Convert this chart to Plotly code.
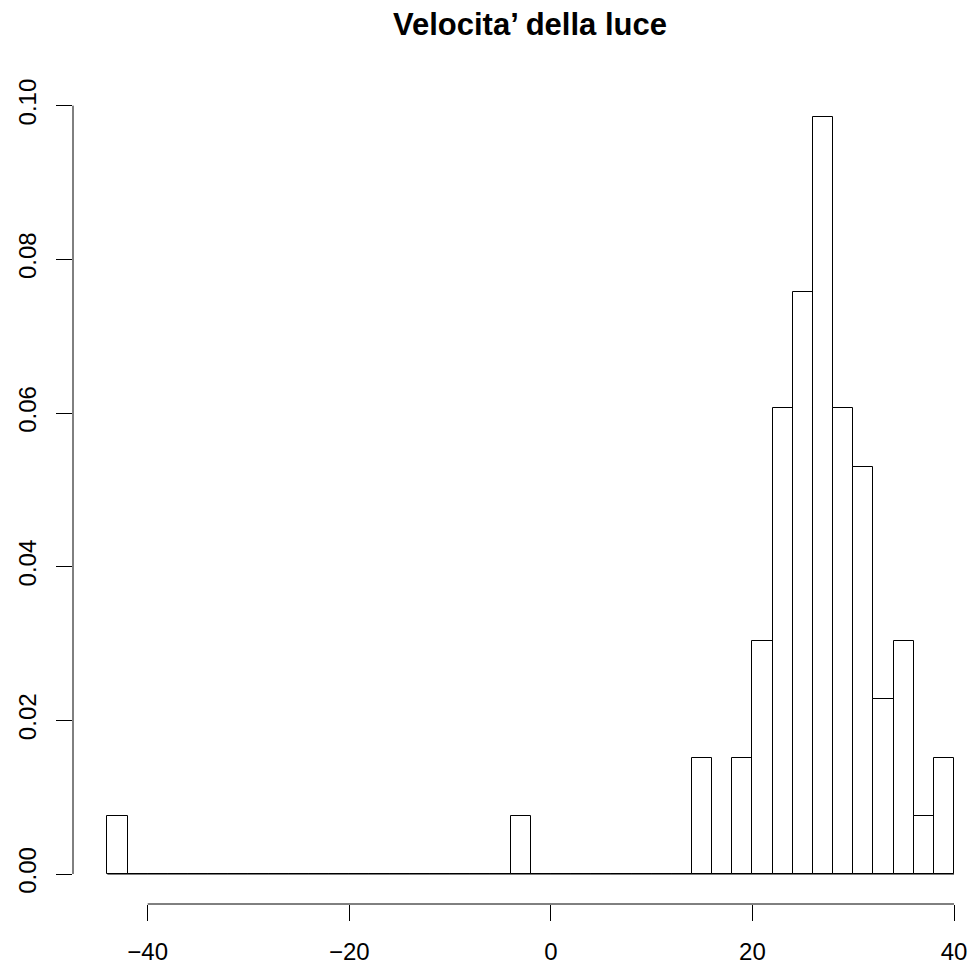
import plotly.graph_objects as go

# Newcomb light-speed data, histogram bins (width 2) from -44 to 40
bin_left = [-44, -42, -40, -38, -36, -34, -32, -30, -28, -26, -24, -22, -20, -18, -16, -14, -12, -10, -8, -6, -4, -2,
            0, 2, 4, 6, 8, 10, 12, 14, 16, 18, 20, 22, 24, 26, 28, 30, 32, 34, 36, 38]
counts = [1, 0, 0, 0, 0, 0, 0, 0, 0, 0, 0, 0, 0, 0, 0, 0, 0, 0, 0, 0, 1, 0,
          0, 0, 0, 0, 0, 0, 0, 2, 0, 2, 4, 8, 10, 13, 8, 7, 3, 4, 1, 2]
bin_width = 2
n_total = sum(counts)
density = [c / (n_total * bin_width) for c in counts]
centers = [b + bin_width / 2 for b in bin_left]

x_ticks = [-40, -20, 0, 20, 40]
y_ticks = [0.0, 0.02, 0.04, 0.06, 0.08, 0.10]
y_ticktext = ["0.00", "0.02", "0.04", "0.06", "0.08", "0.10"]

FONT = "Liberation Sans, Arial, Helvetica, sans-serif"

fig = go.Figure()
# baseline of empty bins
fig.add_trace(go.Scatter(x=[bin_left[0], bin_left[-1] + bin_width], y=[0, 0], mode="lines",
                         line=dict(color="black", width=1), hoverinfo="skip", showlegend=False))
fig.add_trace(go.Bar(x=centers, y=density, width=bin_width,
                     marker=dict(color="white", line=dict(color="black", width=1)),
                     showlegend=False))

fig.update_layout(
    width=974, height=970,
    margin=dict(l=73, r=0, t=87, b=66, autoexpand=False),
    plot_bgcolor="white", paper_bgcolor="white",
    bargap=0,
    font=dict(family=FONT, size=24, color="black"),
    title=dict(text="<b>Velocita’ della luce</b>", x=530 / 974, xref="container", xanchor="center",
               y=1 - 24 / 970, yref="container", yanchor="middle",
               font=dict(family=FONT, size=31, color="black")),
    xaxis=dict(range=[-47.41, 41.98], tickvals=x_ticks, ticks="outside", ticklen=16, tickwidth=1,
               tickcolor="black", showline=False, showgrid=False, zeroline=False, automargin=False,
               ticklabelstandoff=10, tickfont=dict(size=24)),
    yaxis=dict(range=[-0.0039, 0.10243], tickvals=y_ticks, ticktext=y_ticktext, ticks="outside",
               ticklen=16, tickwidth=1, tickcolor="black", showline=False, showgrid=False,
               zeroline=False, automargin=False, tickangle=-90, ticklabelstandoff=10,
               tickfont=dict(size=24)),
    shapes=[
        dict(type="line", xref="x", yref="paper", x0=x_ticks[0], x1=x_ticks[-1], y0=0, y1=0,
             line=dict(color="black", width=1)),
        dict(type="line", xref="paper", yref="y", x0=0, x1=0, y0=y_ticks[0], y1=y_ticks[-1],
             line=dict(color="black", width=1)),
    ],
)

fig.write_html("out.html")
